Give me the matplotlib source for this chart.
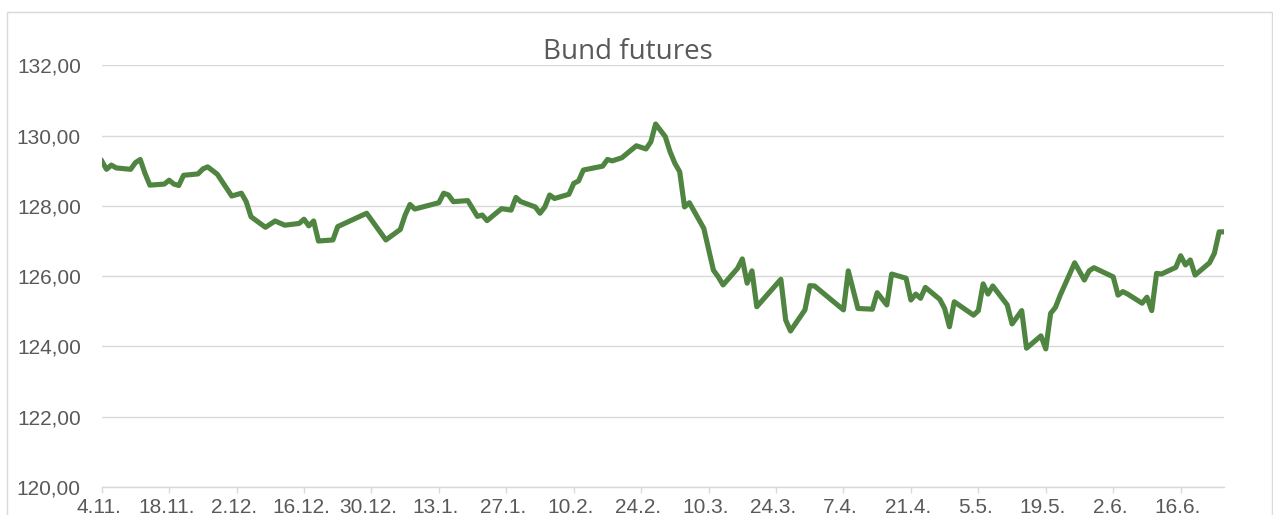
import numpy as np
import pandas as pd
import matplotlib
matplotlib.use("Agg")
import matplotlib.pyplot as plt
import matplotlib.transforms as mtransforms
from matplotlib.patches import Rectangle

# days since 4.11.2024 and Bund futures price
days = [0, 1, 2, 3, 6, 7, 8, 9, 10, 13, 14, 15, 16, 17, 20, 21, 22, 24, 27, 29,
        30, 31, 34, 36, 38, 41, 42, 43, 44, 45, 48, 49, 55, 59, 62, 63, 64, 65, 70, 71,
        72, 73, 76, 78, 79, 80, 83, 85, 86, 87, 90, 91, 92, 93, 94, 97, 98, 99, 100, 104,
        105, 106, 108, 111, 113, 114, 115, 117, 118, 119, 120, 121, 122, 125, 127, 128, 129, 132, 133, 134,
        135, 136, 141, 142, 143, 146, 147, 148, 154, 155, 157, 160, 161, 163, 164, 167, 168, 169, 170, 171,
        174, 175, 176, 177, 181, 182, 183, 184, 185, 188, 189, 191, 192, 195, 196, 197, 198, 199, 202, 204,
        205, 206, 210, 211, 212, 213, 216, 217, 218, 219, 220, 223, 224, 225, 226, 227, 230, 231, 232, 233]
price = [129.28, 129.04, 129.16, 129.08, 129.04, 129.23, 129.32, 128.92, 128.59, 128.62,
         128.73, 128.62, 128.58, 128.87, 128.91, 129.05, 129.11, 128.90, 128.28, 128.36,
         128.12, 127.69, 127.39, 127.57, 127.45, 127.50, 127.62, 127.43, 127.57, 127.00,
         127.03, 127.41, 127.79, 127.03, 127.33, 127.74, 128.04, 127.91, 128.09, 128.36,
         128.31, 128.12, 128.15, 127.70, 127.74, 127.58, 127.92, 127.88, 128.24, 128.12,
         127.97, 127.79, 127.97, 128.31, 128.21, 128.33, 128.64, 128.71, 129.02, 129.13,
         129.32, 129.28, 129.37, 129.71, 129.62, 129.82, 130.33, 129.97, 129.54, 129.21,
         128.97, 127.97, 128.09, 127.36, 126.17, 125.98, 125.75, 126.22, 126.49, 125.80,
         126.15, 125.13, 125.91, 124.75, 124.44, 125.04, 125.73, 125.72, 125.04, 126.15,
         125.08, 125.06, 125.53, 125.18, 126.06, 125.94, 125.32, 125.49, 125.37, 125.68,
         125.34, 125.08, 124.56, 125.27, 124.89, 125.02, 125.78, 125.49, 125.72, 125.18,
         124.64, 125.02, 123.95, 124.30, 123.93, 124.94, 125.11, 125.46, 126.38, 125.89,
         126.15, 126.24, 125.98, 125.46, 125.56, 125.49, 125.23, 125.40, 125.02, 126.08,
         126.06, 126.25, 126.58, 126.32, 126.46, 126.03, 126.38, 126.65, 127.26, 127.26]

tick_dates = ["2024-11-04", "2024-11-18", "2024-12-02", "2024-12-16", "2024-12-30",
              "2025-01-13", "2025-01-27", "2025-02-10", "2025-02-24", "2025-03-10",
              "2025-03-24", "2025-04-07", "2025-04-21", "2025-05-05", "2025-05-19",
              "2025-06-02", "2025-06-16"]
tick_labels = ["4.11.", "18.11.", "2.12.", "16.12.", "30.12.", "13.1.", "27.1.", "10.2.",
               "24.2.", "10.3.", "24.3.", "7.4.", "21.4.", "5.5.", "19.5.", "2.6.", "16.6."]
y_ticks = [120, 122, 124, 126, 128, 130, 132]

base = pd.Timestamp("2024-11-04")
dates = base + pd.to_timedelta(days, unit="D")

W, H = 1273, 515
fig = plt.figure(figsize=(W / 100, H / 100), dpi=100)
ax = fig.add_axes([101.7 / W, (H - 487) / H, (1224 - 101.7) / W, (487 - 65.3) / H])

ax.plot(dates, price, color="#4f8540", lw=3.7, solid_joinstyle="round", zorder=3)

ax.set_xlim(dates[0], dates[-1])
ax.set_ylim(120, 132)
ax.set_yticks(y_ticks)
ax.set_yticklabels([f"{v:.2f}".replace(".", ",") for v in y_ticks])
ax.set_xticks(pd.to_datetime(tick_dates))
ax.set_xticklabels(tick_labels)

grey = "#d9d9d9"
txt = "#595959"
ax.grid(axis="y", color=grey, lw=1.0)
ax.set_axisbelow(True)
for s in ["top", "right", "left"]:
    ax.spines[s].set_visible(False)
ax.spines["bottom"].set_color(grey)
ax.spines["bottom"].set_linewidth(1.0)
ax.tick_params(axis="y", length=0, pad=15, labelsize=15, labelcolor=txt)
ax.tick_params(axis="x", length=4, width=1, color=grey, pad=4, labelsize=15, labelcolor=txt)
for lab in ax.get_yticklabels() + ax.get_xticklabels():
    lab.set_fontfamily("Liberation Sans")
shift = mtransforms.ScaledTranslation(-3 / 100, 0, fig.dpi_scale_trans)
for lab in ax.get_xticklabels():
    lab.set_transform(lab.get_transform() + shift)

fig.text(628 / W, (H - 59) / H, "Bund futures", ha="center", va="baseline",
         fontsize=20, color=txt, family="Open Sans")

fig.patches.append(Rectangle((7 / W, -0.1), (1271.7 - 7) / W, (H - 12) / H + 0.1,
                             transform=fig.transFigure, fill=False, edgecolor=grey, lw=1.0))

fig.savefig("out.png", dpi=100)
